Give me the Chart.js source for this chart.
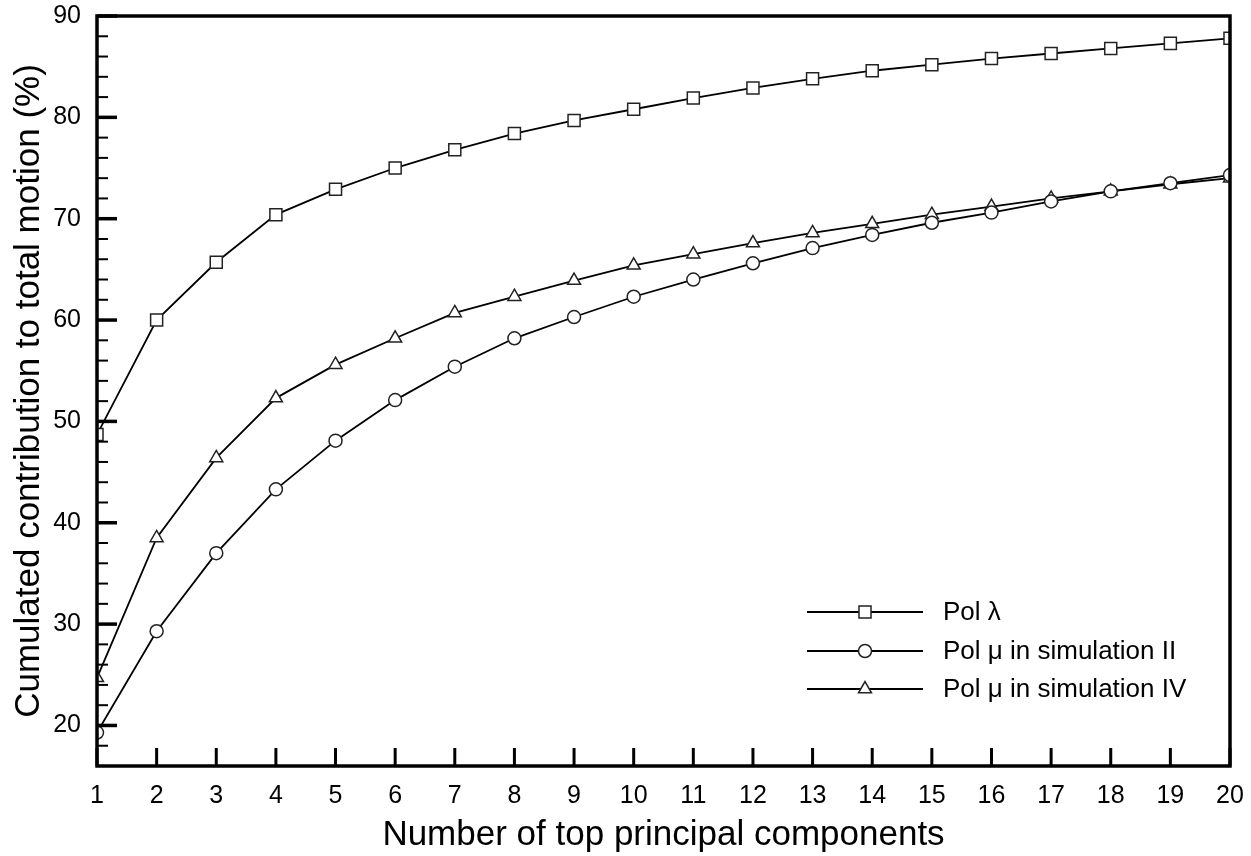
<!DOCTYPE html>
<html>
<head>
<meta charset="utf-8">
<script src="https://cdn.jsdelivr.net/npm/chart.js@4.4.0/dist/chart.umd.min.js"></script>
<style>
  html, body { margin: 0; padding: 0; background: #fff; }
  #wrap { width: 1251px; height: 856px; position: relative; }
</style>
</head>
<body>
<div id="wrap"><canvas id="c" width="1251" height="856"></canvas></div>
<script>
const components = [1,2,3,4,5,6,7,8,9,10,11,12,13,14,15,16,17,18,19,20];
const polLambda = [48.7,60.0,65.7,70.4,72.9,75.0,76.8,78.4,79.7,80.8,81.9,82.9,83.8,84.6,85.2,85.8,86.3,86.8,87.3,87.8];
const polMuSimII = [19.3,29.3,37.0,43.3,48.1,52.1,55.4,58.2,60.3,62.3,64.0,65.6,67.1,68.4,69.6,70.6,71.7,72.7,73.5,74.3];
const polMuSimIV = [24.7,38.5,46.4,52.3,55.6,58.2,60.7,62.3,63.9,65.4,66.5,67.6,68.6,69.5,70.4,71.2,72.0,72.7,73.4,74.0];
const seriesLabels = ['Pol λ', 'Pol μ in simulation II', 'Pol μ in simulation IV'];
const yMajorTicks = [20,30,40,50,60,70,80,90];
const yMinorTicks = [18,22,24,26,28,32,34,36,38,42,44,46,48,52,54,56,58,62,64,66,68,72,74,76,78,82,84,86,88];
const xAxisTitle = 'Number of top principal components';
const yAxisTitle = 'Cumulated contribution to total motion (%)';

const FONT = '"Liberation Sans", Arial, Helvetica, sans-serif';

function toPoints(arr) { return components.map((x, i) => ({x: x, y: arr[i]})); }

function ds(label, data, style, radius) {
  return {
    label: label, data: toPoints(data),
    borderColor: '#000', borderWidth: 1.8,
    pointStyle: style, pointRadius: radius, pointHoverRadius: radius,
    pointBackgroundColor: '#fff', pointBorderColor: '#222', pointBorderWidth: 1.5,
    tension: 0, clip: 0, fill: false
  };
}

const framePlugin = {
  id: 'frame',
  afterDatasetsDraw(chart) {
    const ctx = chart.ctx, a = chart.chartArea;
    const xs = chart.scales.x, ys = chart.scales.y;
    ctx.save();
    ctx.strokeStyle = '#000';
    ctx.lineCap = 'butt';
    ctx.lineWidth = 3.5;
    yMajorTicks.forEach(v => {
      const y = ys.getPixelForValue(v);
      ctx.beginPath(); ctx.moveTo(a.left, y); ctx.lineTo(a.left + 20, y); ctx.stroke();
    });
    ctx.lineWidth = 2;
    yMinorTicks.forEach(v => {
      const y = ys.getPixelForValue(v);
      ctx.beginPath(); ctx.moveTo(a.left, y); ctx.lineTo(a.left + 11, y); ctx.stroke();
    });
    ctx.lineWidth = 3;
    components.forEach(v => {
      const x = xs.getPixelForValue(v);
      ctx.beginPath(); ctx.moveTo(x, a.bottom); ctx.lineTo(x, a.bottom - 18); ctx.stroke();
    });
    ctx.lineWidth = 3.5;
    ctx.strokeRect(a.left, a.top, a.right - a.left, a.bottom - a.top);
    // legend
    const lx0 = 807, lx1 = 923, mx = 865, tx = 943;
    const rows = [612, 651, 689];
    ctx.font = '26px ' + FONT;
    ctx.textBaseline = 'middle';
    chart.data.datasets.forEach((d, i) => {
      const y = rows[i];
      ctx.lineWidth = 1.8; ctx.strokeStyle = '#000';
      ctx.beginPath(); ctx.moveTo(lx0, y); ctx.lineTo(lx1, y); ctx.stroke();
      ctx.fillStyle = '#fff'; ctx.strokeStyle = '#222'; ctx.lineWidth = 1.5;
      Chart.helpers.drawPoint(ctx, {pointStyle: d.pointStyle, radius: d.pointRadius, rotation: 0, borderWidth: 1.5}, mx, y);
      ctx.fillStyle = '#000';
      ctx.fillText(d.label, tx, y + 1);
    });
    ctx.restore();
  }
};

new Chart(document.getElementById('c'), {
  type: 'line',
  data: {
    datasets: [
      ds(seriesLabels[0], polLambda, 'rect', 8.5),
      ds(seriesLabels[1], polMuSimII, 'circle', 6.5),
      ds(seriesLabels[2], polMuSimIV, 'triangle', 7.5)
    ]
  },
  options: {
    responsive: false, animation: false, devicePixelRatio: 1,
    layout: { padding: { left: 0, top: 16, right: 21, bottom: 0 } },
    plugins: { legend: { display: false }, tooltip: { enabled: false } },
    scales: {
      x: {
        type: 'linear', min: 1, max: 20,
        border: { display: false },
        grid: { display: false, drawTicks: false },
        ticks: { stepSize: 1, padding: 15, color: '#000', font: { family: FONT, size: 25 } },
        title: { display: true, text: xAxisTitle, color: '#000', font: { family: FONT, size: 35 }, padding: { top: 0, bottom: 0 } },
        afterFit(scale) { scale.height = 90; scale.paddingLeft = 0; scale.paddingRight = 0; }
      },
      y: {
        type: 'linear', min: 16, max: 90,
        border: { display: false },
        grid: { display: false, drawTicks: false },
        ticks: { padding: 16, color: '#000', font: { family: FONT, size: 25 } },
        afterBuildTicks(scale) { scale.ticks = yMajorTicks.map(v => ({value: v})); },
        title: { display: true, text: yAxisTitle, color: '#000', font: { family: FONT, size: 35 }, padding: { top: 8, bottom: 0 } },
        afterFit(scale) { scale.width = 97; scale.paddingTop = 0; scale.paddingBottom = 0; }
      }
    }
  },
  plugins: [framePlugin]
});
</script>
</body>
</html>
